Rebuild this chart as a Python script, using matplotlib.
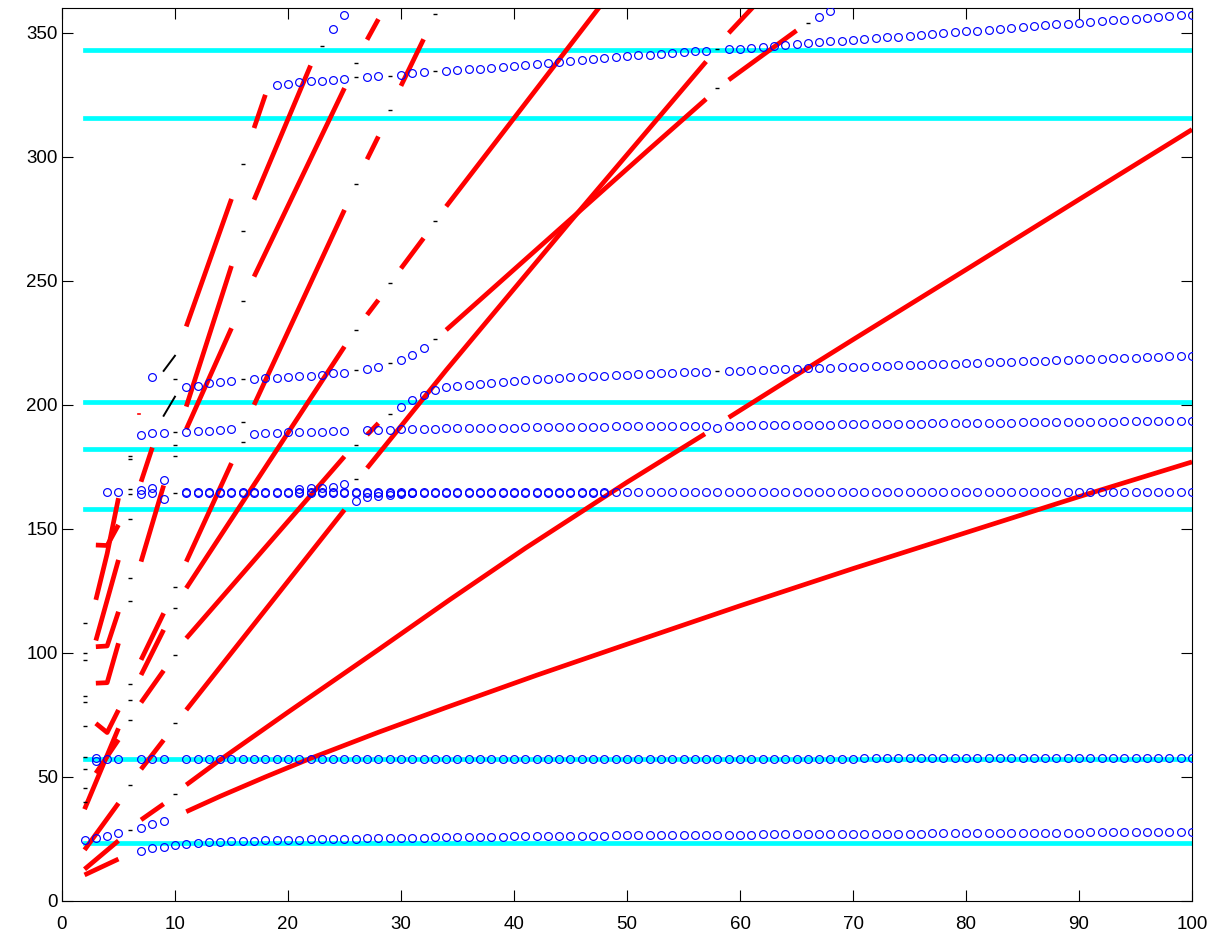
import numpy as np
import matplotlib.pyplot as plt

# cut-off levels (cyan)
levels = [23.5, 57.2, 158.0, 182.2, 201.0, 315.8, 342.9]

# computed branches (blue circles)
b1_x = [2, 3, 4, 5, 7, 8, 9]
b1_y = [24.6, 25.3, 26.2, 27.3, 29.3, 31.0, 32.4]

b2_x = list(range(7, 101))
b2_y = [20.3, 21.2, 21.9, 22.6, 23.0, 23.3, 23.6, 23.8, 24.0, 24.1,
        24.3, 24.4, 24.5, 24.6, 24.7, 24.8, 24.9, 25.0, 25.1, 25.1,
        25.2, 25.3, 25.4, 25.4, 25.5, 25.5, 25.6, 25.7, 25.7, 25.8,
        25.8, 25.9, 25.9, 26.0, 26.0, 26.1, 26.1, 26.2, 26.2, 26.2,
        26.3, 26.3, 26.4, 26.4, 26.4, 26.5, 26.5, 26.5, 26.6, 26.6,
        26.6, 26.6, 26.7, 26.7, 26.7, 26.8, 26.8, 26.8, 26.9, 26.9,
        26.9, 27.0, 27.0, 27.0, 27.1, 27.1, 27.1, 27.2, 27.2, 27.2,
        27.3, 27.3, 27.3, 27.4, 27.4, 27.4, 27.5, 27.5, 27.5, 27.5,
        27.6, 27.6, 27.6, 27.6, 27.7, 27.7, 27.7, 27.7, 27.8, 27.8,
        27.8, 27.8, 27.8, 27.8]

b3_x = [3, 3, 4, 5, 7, 8, 9] + list(range(11, 101))
b3_y = [56.5, 57.8, 57.2, 57.2, 57.2, 57.2, 57.2] + [57.3] * 60 + [57.6] * 30

b4_x = [4, 5, 7, 7, 8, 8, 9, 9] + list(range(11, 101))
b4_y = [165.0, 165.0, 165.7, 164.1, 166.3, 164.5, 169.7, 162.0] + [164.9] * 90

# second, nearly coincident branch along 165
b4d_x = list(range(11, 49))
b4d_y = [164.6] * 38

b4e_x = [21, 22, 23, 24, 25, 26, 27, 28, 29, 30, 31]
b4e_y = [166.2, 166.4, 166.6, 166.9, 168.1, 161.4, 162.8, 163.3, 163.7, 164.1, 164.4]

b5_x = [7, 8, 9, 11, 12, 13, 14, 15, 17, 18, 19, 20, 21, 22, 23, 24, 25,
        27, 28, 29, 30, 31, 32, 33, 34] + list(range(35, 101))
b5_y = [187.9, 188.8, 188.8, 189.2, 189.5, 189.5, 189.9, 190.3, 188.2, 188.8,
        188.8, 189.2, 189.2, 189.2, 189.2, 189.5, 189.5, 189.9, 189.9, 190.0,
        190.2, 190.2, 190.3, 190.4, 190.5] + \
       [190.6, 190.6, 190.7, 190.7, 190.8, 190.8, 190.9, 190.9, 191.0, 191.0,
        191.1, 191.1, 191.2, 191.2, 191.3, 191.3, 191.4, 191.4, 191.4, 191.5,
        191.5, 191.5, 191.5, 190.8, 191.6, 191.6, 191.7, 191.7, 191.8, 191.8,
        191.9, 191.9, 192.0, 192.0, 192.1, 192.1, 192.2, 192.2, 192.3, 192.3,
        192.4, 192.4, 192.5, 192.5, 192.6, 192.6, 192.7, 192.7, 192.8, 192.8,
        192.9, 192.9, 193.0, 193.0, 193.1, 193.1, 193.2, 193.2, 193.2, 193.3,
        193.3, 193.3, 193.4, 193.4, 193.4, 193.4]

b6_x = [8, 11, 12, 13, 14, 15, 17, 18, 19, 20, 21, 22, 23, 24, 25, 27, 28, 30, 31, 32]
b6_y = [211.2, 207.1, 207.7, 208.7, 209.4, 209.7, 210.3, 210.8, 210.8, 211.2,
        211.5, 211.7, 212.0, 212.8, 213.0, 214.4, 215.2, 218.1, 220.3, 222.9]

b7_x = list(range(30, 58)) + list(range(59, 101))
b7_y = [199.1, 202.0, 204.0, 205.8, 207.1, 207.7, 208.2, 208.6, 209.0, 209.4,
        209.7, 210.0, 210.3, 210.6, 210.9, 211.2, 211.4, 211.6, 211.8, 212.0,
        212.2, 212.4, 212.6, 212.8, 213.0, 213.1, 213.3, 213.4] + \
       [213.7, 213.8, 214.0, 214.1, 214.3, 214.4, 214.6, 214.7, 214.9, 215.0,
        215.1, 215.3, 215.4, 215.6, 215.7, 215.9, 216.0, 216.2, 216.3, 216.5,
        216.6, 216.8, 216.9, 217.1, 217.2, 217.4, 217.5, 217.7, 217.8, 218.0,
        218.1, 218.3, 218.4, 218.6, 218.7, 218.9, 219.0, 219.2, 219.3, 219.5,
        219.6, 219.8]

b8_x = [19, 20, 21, 22, 23, 24, 25, 27, 28, 30, 31, 32] + list(range(34, 58)) + list(range(59, 101))
b8_y = [329.0, 329.4, 330.0, 330.4, 330.6, 331.0, 331.3, 332.0, 332.4, 333.0, 333.7, 334.0,
        334.7, 335.1, 335.4, 335.6, 335.9, 336.3, 336.7, 337.0, 337.4, 337.8,
        338.3, 338.7, 339.0, 339.4, 339.8, 340.2, 340.5, 340.9, 341.2, 341.6,
        341.9, 342.3, 342.6, 342.8,
        343.4, 343.5, 343.8, 344.2, 344.8, 345.2, 345.4, 345.8, 346.1, 346.5,
        346.8, 347.0, 347.5, 347.9, 348.1, 348.5, 348.8, 349.2, 349.6, 350.0,
        350.3, 350.7, 350.9, 351.2, 351.6, 351.9, 352.3, 352.7, 353.0, 353.4,
        353.6, 353.9, 354.3, 354.6, 355.0, 355.2, 355.6, 355.9, 356.3, 356.6,
        357.0, 357.3]

b9_x = [24, 25, 67, 68]
b9_y = [351.5, 357.0, 356.3, 358.9]

# asymptotic branches (red), one polyline per visible piece
red_pieces = [
    # lowest branch
    ([2, 5], [10.5, 16.9]),
    ([11, 14, 18, 22, 28, 34, 42, 50, 60, 70, 80, 90, 100],
     [36, 42.2, 50, 57.5, 68, 78, 91, 103.5, 119, 134, 148.5, 163, 177]),
    # second branch
    ([2, 5], [12.8, 24.3]),
    ([7, 9], [32.7, 39.1]),
    ([11, 14, 20, 28, 34.3, 41, 50, 56.9],
     [46.8, 56.9, 76.1, 101.3, 121.4, 142.2, 168.8, 188.3]),
    ([59, 63.5, 70, 80, 90, 100], [194.9, 207.8, 226.3, 254.5, 282.8, 311]),
    # third branch
    ([2, 5], [20.6, 39.4]),
    ([7, 9], [53.1, 64.9]),
    ([11, 25], [77, 157.7]),
    ([27, 34, 45, 57], [174.5, 214, 274, 338.4]),
    ([59, 61.2], [349.9, 360.6]),
    # fourth branch
    ([3, 5], [51.5, 65.0]),
    ([7, 9], [80.0, 92.9]),
    ([11, 25], [105.9, 179.2]),
    ([27, 28], [187.9, 192.6]),
    ([34, 51.9, 57], [230.2, 302.8, 323.3]),
    ([59, 65], [331, 350.9]),
    # fifth branch
    ([2, 5], [37.0, 69.6]),
    ([7, 9], [91.1, 109.3]),
    ([11, 25], [126.1, 223.5]),
    ([27, 28], [236.3, 242.3]),
    ([30, 32], [255.0, 267.2]),
    ([34, 47.6], [280.0, 360.6]),
    # sixth branch
    ([3, 4, 5], [71.6, 67.9, 77.0]),
    ([7, 9], [97.2, 116.0]),
    ([11, 15], [136.8, 176.5]),
    ([17, 25], [200.0, 278.6]),
    ([27, 28], [299.0, 308.2]),
    ([30, 32], [328.6, 347.4]),
    # upper branches
    ([3, 4, 5], [87.8, 88.0, 103.9]),
    ([7, 9], [136.8, 167.5]),
    ([11, 15], [190.2, 230.9]),
    ([17, 25], [251.7, 327.7]),
    ([27, 28], [347.2, 355.5]),
    ([3, 4, 5], [102.5, 102.8, 116.6]),
    ([11, 15], [199.3, 256.0]),
    ([17, 22], [282.7, 336.8]),
    ([3, 5], [105.0, 137.5]),
    ([7, 8], [169.0, 182.8]),
    ([11, 15], [231.6, 283.0]),
    ([17, 18], [311.6, 325.0]),
    ([3, 4, 5], [121.4, 140.0, 162.4]),
    ([3, 4, 5], [143.5, 143.3, 151.6]),
]

# leftover points between pieces (black)
dash_x = [2, 2, 2, 2, 2, 2, 2, 2, 2, 2,
          6, 6, 6, 6, 6, 6, 6, 6, 6, 6, 6, 6,
          10, 10, 10, 10, 10, 10, 10, 10, 10, 10,
          16, 16, 16, 16, 16, 16,
          23, 26, 26, 26, 26, 26, 26, 26,
          29, 29, 29, 29, 29, 33, 33, 33, 33, 58, 58, 58, 66]
dash_y = [112.2, 99.9, 97.2, 82.7, 80.4, 70.6, 58.2, 53.1, 45.4, 40.0,
          179.4, 178.1, 166.0, 164.1, 153.9, 130.1, 121.1, 87.5, 81.0, 72.8, 46.8, 28.5,
          210.4, 189.2, 183.9, 179.2, 164.6, 126.4, 118.0, 99.2, 71.6, 43.0,
          297.2, 269.9, 241.7, 210.4, 192.9, 185.2,
          344.5, 337.8, 332.0, 289.1, 230.0, 214.1, 183.9, 170.0,
          332.7, 318.7, 249.1, 216.8, 196.4, 357.7, 334.7, 274.0, 226.5, 343.4, 327.7, 213.8, 353.9]

fig = plt.figure(figsize=(12.17, 9.39), dpi=100)
ax = fig.add_axes([0.0509, 0.0405, 0.9286, 0.951])

for lv in levels:
    ax.plot([2, 100], [lv, lv], color='cyan', lw=3.4, zorder=1)

for xs, ys in red_pieces:
    ax.plot(xs, ys, color='red', lw=3.4, solid_capstyle='butt', zorder=2)

ax.plot([6.75, 6.95], [196.4, 196.4], color='red', lw=1.2, zorder=2)
ax.plot([9, 10], [195.6, 203.3], 'k-', lw=1.4, zorder=2)
ax.plot([9, 10], [213.7, 219.8], 'k-', lw=1.4, zorder=2)
ax.plot(dash_x, dash_y, ls='none', marker='_', ms=3, mew=1.0, color='k', zorder=2)

blue = [(b1_x, b1_y), (b2_x, b2_y), (b3_x, b3_y), (b4_x, b4_y), (b4d_x, b4d_y),
        (b4e_x, b4e_y), (b5_x, b5_y), (b6_x, b6_y), (b7_x, b7_y), (b8_x, b8_y),
        (b9_x, b9_y)]
for xs, ys in blue:
    ax.plot(xs, ys, ls='none', marker='o', ms=5.6, mfc='none', mec='blue', mew=0.85, zorder=3)

ax.set_xlim(0, 100)
ax.set_ylim(0, 360)
ax.set_xticks(range(0, 101, 10))
ax.set_yticks(range(0, 351, 50))
ax.tick_params(direction='in', length=8, width=0.8, top=True, right=True, labelsize=13.5)
ax.tick_params(axis='x', pad=11)
ax.tick_params(axis='y', pad=3)
for lab in ax.get_xticklabels() + ax.get_yticklabels():
    lab.set_family(['Liberation Sans', 'DejaVu Sans'])
for sp in ax.spines.values():
    sp.set_linewidth(0.8)

fig.savefig('out.png', dpi=100)
